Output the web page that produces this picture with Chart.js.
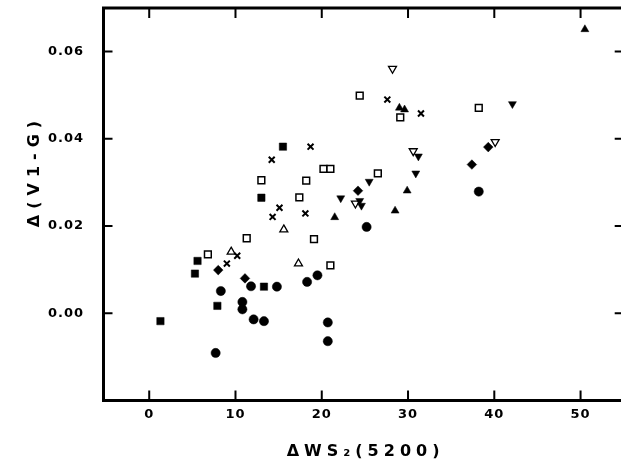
<!DOCTYPE html>
<html>
<head>
<meta charset="utf-8">
<script src="https://cdn.jsdelivr.net/npm/chart.js@4.4.0/dist/chart.umd.min.js"></script>
<style>
  html, body { margin: 0; padding: 0; background: #fff; overflow: hidden; }
  canvas { display: block; }
</style>
</head>
<body>
<canvas id="chart" width="630" height="467"></canvas>
<script>
// axis ticks
const xTicks = [0, 10, 20, 30, 40, 50];
const yTicks = [0, 0.02, 0.04, 0.06];
const xTitle = "ΔWS₂(5200)";
const yTitle = "Δ(V1-G)";

// [ΔWS2(5200), Δ(V1-G)] per symbol
const filledCircles = [
  [7.7, -0.0091], [8.3, 0.0051], [10.8, 0.0026], [10.8, 0.0009], [11.8, 0.0062],
  [12.1, -0.0014], [13.3, -0.0018], [14.8, 0.0061], [18.3, 0.0072], [19.5, 0.0087],
  [20.7, -0.0021], [20.7, -0.0064], [25.2, 0.0198], [38.2, 0.0279]
];
const filledSquares = [
  [1.3, -0.0018], [5.3, 0.0091], [5.6, 0.0120], [7.9, 0.0017], [13.3, 0.0061],
  [13.0, 0.0265], [15.5, 0.0382]
];
const openSquares = [
  [6.8, 0.0135], [11.3, 0.0172], [13.0, 0.0305], [17.4, 0.0266], [18.2, 0.0304],
  [19.1, 0.0170], [20.2, 0.0331], [21.0, 0.0331], [21.0, 0.0110], [24.4, 0.0499],
  [26.5, 0.0321], [29.1, 0.0449], [38.2, 0.0471]
];
const crosses = [
  [9.0, 0.0114], [10.2, 0.0132], [14.2, 0.0352], [14.3, 0.0221], [15.1, 0.0242],
  [18.1, 0.0229], [18.7, 0.0382], [27.6, 0.0490], [31.5, 0.0458]
];
const diamonds = [
  [8.0, 0.0099], [11.1, 0.0080], [24.2, 0.0281], [37.4, 0.0341], [39.3, 0.0381]
];
const filledUp = [
  [21.5, 0.0220], [28.5, 0.0235], [29.9, 0.0281], [29.0, 0.0471], [29.6, 0.0467], [50.5, 0.0651]
];
const filledDown = [
  [22.2, 0.0264], [24.4, 0.0258], [24.6, 0.0247], [25.5, 0.0302], [30.9, 0.0321],
  [31.2, 0.0360], [42.1, 0.0480]
];
const openUp = [[9.5, 0.0141], [15.6, 0.0192], [17.3, 0.0114]];
const openDown = [[23.9, 0.0252], [28.2, 0.0561], [30.6, 0.0372], [40.1, 0.0393]];

const pts = (arr) => arr.map(([x, y]) => ({ x, y }));
const tickFont = { family: "DejaVu Sans", weight: "bold", size: 13 };

function series(data, style, r, fill, bw, rot) {
  return {
    data: pts(data),
    pointStyle: style,
    pointRadius: r,
    pointRotation: rot || 0,
    pointBackgroundColor: fill,
    pointBorderColor: "#000",
    pointBorderWidth: bw,
    showLine: false
  };
}

// frame, inner ticks on all four sides, axis titles
const framePlugin = {
  id: "frame",
  beforeDraw(chart) { chart.ctx.letterSpacing = "1px"; },
  afterDraw(chart) {
    const { ctx, chartArea: a, scales: { x, y } } = chart;
    ctx.save();
    ctx.strokeStyle = "#000";
    ctx.lineWidth = 3;
    ctx.strokeRect(a.left, a.top, a.right - a.left, a.bottom - a.top);
    ctx.lineWidth = 2;
    ctx.beginPath();
    xTicks.forEach(v => {
      const px = x.getPixelForValue(v);
      ctx.moveTo(px, a.bottom); ctx.lineTo(px, a.bottom - 10);
      ctx.moveTo(px, a.top); ctx.lineTo(px, a.top + 10);
    });
    yTicks.forEach(v => {
      const py = y.getPixelForValue(v);
      ctx.moveTo(a.left, py); ctx.lineTo(a.left + 9, py);
      ctx.moveTo(a.right, py); ctx.lineTo(a.right - 9, py);
    });
    ctx.stroke();

    ctx.fillStyle = "#000";
    ctx.font = "bold 16px 'DejaVu Sans'";
    ctx.textAlign = "center";
    ctx.textBaseline = "middle";
    ctx.letterSpacing = "5px";
    ctx.fillText(xTitle, (a.left + a.right) / 2 + 2, 452);
    ctx.translate(35, 174);
    ctx.rotate(-Math.PI / 2);
    ctx.letterSpacing = "6px";
    ctx.fillText(yTitle, 3, 0);
    ctx.restore();
  }
};

new Chart(document.getElementById("chart").getContext("2d"), {
  type: "scatter",
  data: {
    datasets: [
      series(filledCircles, "circle", 4.6, "#000", 0.5),
      series(filledSquares, "rect", 5.2, "#000", 0.5),
      series(diamonds, "rectRot", 4.8, "#000", 0.5),
      series(filledUp, "triangle", 4.6, "#000", 0.5),
      series(filledDown, "triangle", 4.6, "#000", 0.5, 180),
      series(crosses, "crossRot", 4.2, "#000", 2),
      series(openSquares, "rect", 4.8, "#fff", 1.5),
      series(openUp, "triangle", 4.6, "#fff", 1.3),
      series(openDown, "triangle", 4.6, "#fff", 1.3, 180)
    ]
  },
  options: {
    responsive: false,
    animation: false,
    events: [],
    layout: { padding: { top: 8, right: 4.3, left: 0, bottom: 0 } },
    plugins: { legend: { display: false }, tooltip: { enabled: false } },
    scales: {
      x: {
        type: "linear", min: -5.3, max: 55,
        afterFit: (s) => { s.height = 66.5; s.paddingLeft = 0; s.paddingRight = 0; },
        afterBuildTicks: (s) => { s.ticks = xTicks.map(v => ({ value: v })); },
        grid: { display: false, drawTicks: false },
        border: { display: false },
        ticks: { padding: 6, color: "#000", font: tickFont, autoSkip: false, maxRotation: 0,
                 callback: (v) => String(v) }
      },
      y: {
        type: "linear", min: -0.02, max: 0.07,
        afterFit: (s) => { s.width = 103.5; s.paddingTop = 0; s.paddingBottom = 0; },
        afterBuildTicks: (s) => { s.ticks = yTicks.map(v => ({ value: v })); },
        grid: { display: false, drawTicks: false },
        border: { display: false },
        ticks: { padding: 19.5, color: "#000", font: tickFont, autoSkip: false,
                 callback: (v) => Number(v).toFixed(2) }
      }
    }
  },
  plugins: [framePlugin]
});
</script>
</body>
</html>
